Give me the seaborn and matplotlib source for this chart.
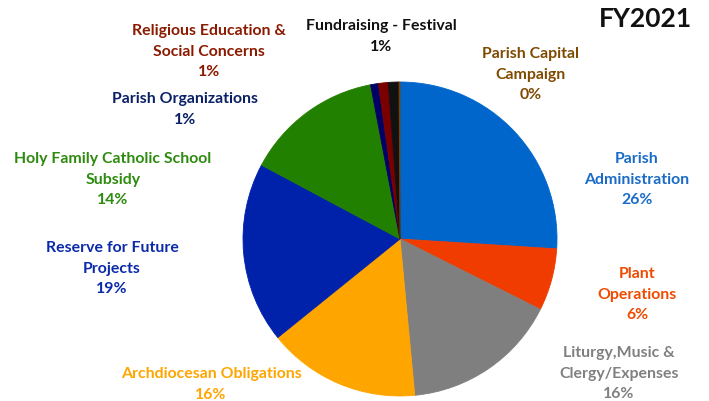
import matplotlib
matplotlib.use("Agg")
import matplotlib.pyplot as plt
import seaborn as sns

categories = [
    "Parish Administration",
    "Plant Operations",
    "Liturgy,Music &\nClergy/Expenses",
    "Archdiocesan Obligations",
    "Reserve for Future\nProjects",
    "Holy Family Catholic School\nSubsidy",
    "Parish Organizations",
    "Religious Education &\nSocial Concerns",
    "Fundraising - Festival",
    "Parish Capital\nCampaign",
]
values = [26.0, 6.4, 16.1, 15.7, 18.6, 14.2, 0.8, 1.0, 1.1, 0.1]
slice_colors = ["#0066CC", "#F03C00", "#7F7F7F", "#FFA500", "#0022AA",
                "#228000", "#000066", "#7A0000", "#111111", "#7F4000"]
text_colors = ["#1A6CC8", "#F04A00", "#808080", "#FFA500", "#0A2AAA",
               "#2E8B10", "#0A1F66", "#8B1A00", "#111111", "#7F4A00"]
title = "FY2021"

# label centers in pixels (x, y of first line)
label_pos = [(637, 158), (637, 273), (619, 352), (211, 373), (112, 247),
             (113, 158), (185, 98), (209, 30), (381, 25), (531, 53)]
display_names = list(categories)
display_names[0] = "Parish\nAdministration"
display_names[1] = "Plant\nOperations"

sns.set_theme(style="white")
plt.rcParams['font.family'] = ['Lato', 'DejaVu Sans']

W, H = 709, 402
fig = plt.figure(figsize=(W / 100, H / 100), dpi=100)
cx, cy, r = 400, 240, 157
ax = fig.add_axes([(cx - r) / W, (H - cy - r) / H, 2 * r / W, 2 * r / H])
wedges, _ = ax.pie(values, colors=slice_colors, startangle=90, counterclock=False,
                   wedgeprops=dict(linewidth=0.6))
for w in wedges:
    w.set_edgecolor(w.get_facecolor())
ax.set_xlim(-1, 1)
ax.set_ylim(-1, 1)
ax.set_aspect('equal')
ax.axis('off')

total = sum(values)
for name, v, col, (px, py) in zip(display_names, values, text_colors, label_pos):
    pct = int(round(v / total * 100))
    txt = f"{name}\n{pct}%"
    fig.text(px / W, 1 - (py - 6) / H, txt, ha='center', va='top',
             color=col, fontsize=11.4, fontweight='bold', linespacing=1.6)

fig.text(645 / W, 1 - 19 / H, title, ha='center', va='center',
         fontsize=19, fontweight='bold', color='#111111')

fig.savefig("out.png", dpi=100)
